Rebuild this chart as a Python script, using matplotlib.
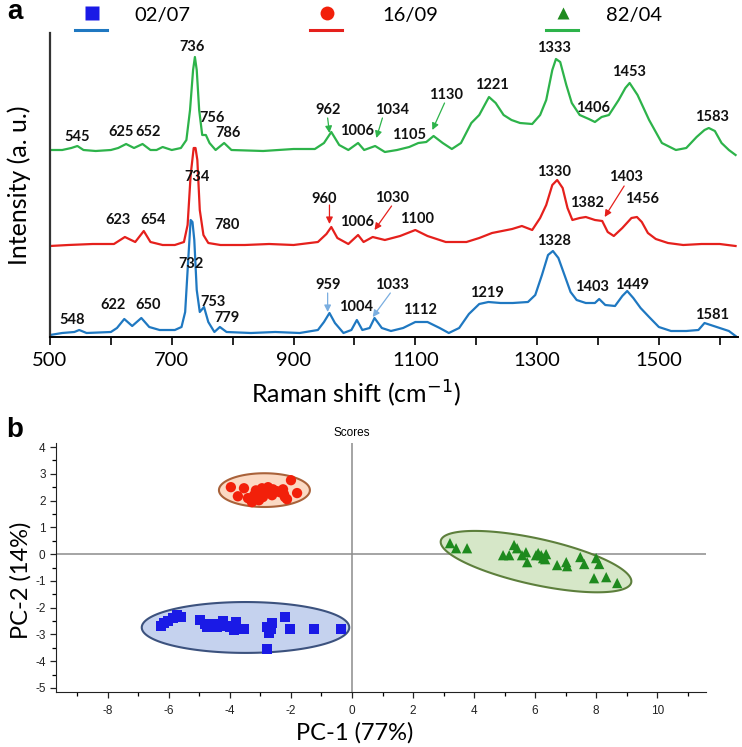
import numpy as np
import matplotlib
matplotlib.use("Agg")
import matplotlib.pyplot as plt
from matplotlib.ticker import MultipleLocator

plt.rcParams['axes.unicode_minus'] = False
plt.rcParams['font.family'] = ['Lato', 'DejaVu Sans']

# ---------------- data: Raman spectra ----------------
wn_green = [500, 520, 535, 545, 555, 575, 600, 612, 625, 638, 652, 665, 675, 685, 700, 715, 724, 730, 735, 738,
            741, 745, 750, 756, 762, 772, 786, 798, 850, 900, 935, 950, 962, 975, 990, 1006, 1016, 1034, 1050,
            1070, 1090, 1105, 1118, 1130, 1145, 1160, 1175, 1192, 1205, 1221, 1232, 1245, 1258, 1272, 1292,
            1305, 1315, 1325, 1331, 1338, 1348, 1357, 1370, 1385, 1395, 1406, 1418, 1434, 1445, 1452, 1465,
            1484, 1505, 1528, 1545, 1562, 1575, 1582, 1592, 1603, 1615, 1626]
int_green = [187, 187, 189, 191, 187, 186, 187, 189, 193, 189, 193, 187, 187, 190, 187, 189, 197, 227, 267, 280,
             267, 227, 202, 202, 194, 187, 194, 187, 186, 188, 188, 194, 205, 192, 187, 194, 187, 191, 185,
             187, 190, 194, 195, 201, 194, 188, 194, 214, 222, 240, 234, 222, 217, 214, 213,
             222, 237, 267, 278, 275, 252, 234, 222, 218, 215, 220, 222, 237, 249, 254, 242,
             217, 194, 187, 189, 200, 207, 209, 206, 194, 187, 182]

wn_red = [500, 530, 570, 605, 623, 640, 654, 665, 685, 705, 720, 726, 731, 736, 739, 742, 746, 752, 760, 780,
          820, 860, 900, 940, 954, 962, 972, 990, 1006, 1015, 1030, 1050, 1075, 1100, 1120, 1150, 1184, 1205,
          1226, 1259, 1275, 1292, 1305, 1315, 1325, 1333, 1342, 1350, 1358, 1370, 1380, 1395, 1407, 1416,
          1426, 1440, 1455, 1464, 1472, 1482, 1495, 1515, 1540, 1570, 1600, 1626]
int_red = [91, 92, 93, 93, 100, 95, 106, 95, 92, 92, 95, 112, 162, 189, 189, 177, 127, 102, 94, 92,
           92, 93, 92, 95, 103, 110, 99, 93, 102, 95, 100, 97, 101, 107, 101, 95, 95, 99,
           104, 108, 111, 107, 119, 132, 152, 157, 149, 129, 117, 119, 120, 117, 116, 105,
           101, 109, 119, 120, 115, 104, 98, 94, 92, 93, 93, 91]

wn_blue = [500, 520, 540, 548, 560, 600, 610, 622, 635, 650, 663, 680, 705, 716, 722, 727, 731, 734, 737, 741,
           746, 753, 760, 770, 779, 790, 830, 870, 910, 940, 950, 959, 968, 982, 995, 1004, 1013, 1025, 1033,
           1045, 1060, 1080, 1100, 1120, 1140, 1155, 1172, 1188, 1205, 1220, 1240, 1260, 1285, 1297, 1308,
           1318, 1326, 1335, 1345, 1355, 1365, 1380, 1395, 1402, 1412, 1428, 1440, 1448, 1458, 1470, 1484,
           1500, 1520, 1545, 1565, 1575, 1585, 1600, 1615, 1626]
int_blue = [2, 4, 5, 7, 4, 5, 9, 18, 11, 19, 10, 7, 7, 10, 25, 77, 117, 115, 97, 47,
            25, 30, 15, 5, 10, 5, 4, 5, 4, 7, 15, 24, 14, 4, 7, 17, 7, 9, 19,
            9, 6, 9, 15, 15, 9, 4, 9, 23, 33, 35, 34, 34, 35, 42, 62,
            82, 86, 79, 62, 45, 37, 34, 34, 38, 32, 31, 41, 46, 39, 29, 20,
            10, 6, 6, 7, 14, 12, 9, 6, 1]

# peak labels: (text, x, y)
peaks_green = [("545", 544, 200), ("625", 616, 205), ("652", 661, 205), ("736", 734, 290), ("756", 766, 219),
               ("786", 793, 204), ("962", 956, 227), ("1006", 1004, 206), ("1034", 1062, 227),
               ("1105", 1090, 202), ("1130", 1151, 242), ("1221", 1225, 252), ("1333", 1328, 289),
               ("1406", 1392, 229), ("1453", 1451, 265), ("1583", 1587, 220)]
peaks_red = [("623", 611, 117), ("654", 669, 117), ("734", 741, 160), ("780", 790, 112), ("960", 951, 138),
             ("1006", 1005, 115), ("1030", 1062, 139), ("1100", 1102, 118), ("1330", 1328, 165),
             ("1382", 1382, 134), ("1403", 1446, 160), ("1456", 1472, 138)]
peaks_blue = [("548", 536, 17), ("622", 603, 32), ("650", 661, 32), ("732", 731, 73), ("753", 767, 35),
              ("779", 790, 19), ("959", 956, 52), ("1004", 1003, 30), ("1033", 1061, 52), ("1112", 1107, 27),
              ("1219", 1218, 44), ("1328", 1328, 96), ("1403", 1390, 50), ("1449", 1456, 52), ("1581", 1587, 22)]

# arrows: (start, end)
arrows_green = [((956, 219), (959, 204)), ((1046, 219), (1036, 199)), ((1148, 234), (1128, 207))]
arrows_red = [((959, 132), (959, 113)), ((1061, 131), (1033, 107)), ((1443, 151), (1411, 120))]
arrows_blue = [((956, 44), (956, 25)), ((1059, 44), (1030, 20))]

# ---------------- data: PCA scores ----------------
pc1_red = [-3.97, -3.74, -3.54, -3.28, -3.21, -3.08, -3.05, -2.95, -2.85, -2.75, -2.69, -2.59, -2.46, -2.36,
           -2.23, -2.13, -2.00, -1.80, -3.41, -2.62, -2.92, -2.26, -2.20, -3.15, -2.78]
pc2_red = [2.50, 2.16, 2.46, 1.94, 2.20, 2.31, 2.01, 2.46, 2.28, 2.50, 2.31, 2.42, 2.35, 2.31,
           2.24, 2.05, 2.76, 2.28, 2.09, 2.20, 2.13, 2.42, 2.13, 2.38, 2.45]

pc1_green = [3.21, 3.41, 3.77, 4.95, 5.15, 5.31, 5.41, 5.57, 5.70, 5.74, 6.03, 6.10, 6.20, 6.26, 6.36, 6.33,
             6.72, 7.02, 7.05, 7.48, 7.61, 8.00, 8.10, 7.93, 8.33, 8.69]
pc2_green = [0.41, 0.22, 0.22, -0.04, -0.04, 0.34, 0.22, -0.04, 0.07, -0.30, -0.04, 0.04, -0.04, -0.15, 0.00,
             -0.19, -0.41, -0.30, -0.45, -0.11, -0.37, -0.15, -0.37, -0.90, -0.86, -1.08]

pc1_blue = [-6.26, -6.16, -6.03, -5.87, -5.74, -5.61, -4.98, -4.82, -4.75, -4.56, -4.43, -4.23, -4.13, -4.00,
            -3.87, -3.80, -3.54, -2.79, -2.62, -2.72, -2.66, -2.20, -2.03, -1.25, -0.36, -2.79]
pc2_blue = [-2.69, -2.57, -2.50, -2.39, -2.28, -2.35, -2.46, -2.61, -2.72, -2.61, -2.72, -2.50, -2.69, -2.72,
            -2.84, -2.54, -2.80, -2.72, -2.57, -2.95, -2.80, -2.35, -2.80, -2.80, -2.80, -3.54]

# confidence ellipses: centre, semi-diameter vectors
ell_red = ((-2.87, 2.39), (1.49, 0.0), (0.0, 0.63))
ell_blue = ((-3.49, -2.74), (3.40, 0.0), (0.0, 0.95))
ell_green = ((6.03, -0.28), (3.12, -0.78), (0.16, 0.84))

groups = ["02/07", "16/09", "82/04"]

c_blue_line, c_red_line, c_green_line = "#1f78c1", "#e5201c", "#2db34a"
c_blue_mk, c_red_mk, c_green_mk = "#1a1ae6", "#f2200a", "#1e8a1e"

fig = plt.figure(figsize=(7.42, 7.47), dpi=100)

# ================= panel a =================
ax = fig.add_axes([50 / 742, 1 - 337 / 747, 688 / 742, 304 / 747])
ax.plot(wn_green, int_green, color=c_green_line, lw=1.6)
ax.plot(wn_red, int_red, color=c_red_line, lw=1.6)
ax.plot(wn_blue, int_blue, color=c_blue_line, lw=1.6)

for lst in (peaks_green, peaks_red, peaks_blue):
    for s, x, y in lst:
        ax.text(x, y, s, ha='center', va='center', fontsize=10.5, fontweight='bold', color='#111111')

arrow_col = {"g": "#2db34a", "r": "#e5201c", "b": "#7aaee0"}
for key, lst in (("g", arrows_green), ("r", arrows_red), ("b", arrows_blue)):
    for start, end in lst:
        ax.annotate('', xy=end, xytext=start,
                    arrowprops=dict(arrowstyle='-|>', color=arrow_col[key], lw=0.9,
                                    shrinkA=0, shrinkB=0, mutation_scale=10))

ax.set_xlim(500, 1630)
ax.set_ylim(0, 304)
ax.set_yticks([])
ax.set_xticks(np.arange(500, 1601, 100))
ax.set_xticklabels([str(v) if v % 200 == 100 else '' for v in range(500, 1601, 100)])
ax.tick_params(axis='x', direction='out', length=6, width=1.2, labelsize=14.5, pad=5)
for sp in ('top', 'right'):
    ax.spines[sp].set_visible(False)
ax.spines['left'].set_linewidth(1.6)
ax.spines['left'].set_color('#333333')
ax.spines['bottom'].set_linewidth(1.4)
ax.set_xlabel("Raman shift (cm$^{-1}$)", fontsize=18)
ax.xaxis.set_label_coords(0.445, -0.135)
ax.set_ylabel("Intensity (a. u.)", fontsize=18)
ax.yaxis.set_label_coords(-0.027, 0.5)

# ================= panel b =================
bx = fig.add_axes([56 / 742, 1 - 692 / 747, 650 / 742, 249 / 747])


def draw_ellipse(axis, ell, face, edge):
    c, a, b = ell
    t = np.linspace(0, 2 * np.pi, 200)
    xs = c[0] + np.cos(t) * a[0] + np.sin(t) * b[0]
    ys = c[1] + np.cos(t) * a[1] + np.sin(t) * b[1]
    axis.fill(xs, ys, facecolor=face, edgecolor=edge, lw=1.5, zorder=2)


bx.axhline(0, color='#8c8c8c', lw=1.1, zorder=1)
bx.axvline(0, color='#8c8c8c', lw=1.1, zorder=1)
draw_ellipse(bx, ell_red, '#fbd9c3', '#a9623a')
draw_ellipse(bx, ell_blue, '#c5d2ee', '#3c527e')
draw_ellipse(bx, ell_green, '#d6e7c8', '#5d7f3c')

bx.scatter(pc1_red, pc2_red, marker='o', s=55, color=c_red_mk, edgecolors='none', zorder=3)
bx.scatter(pc1_blue, pc2_blue, marker='s', s=50, color=c_blue_mk, edgecolors='none', zorder=3)
bx.scatter(pc1_green, pc2_green, marker='^', s=55, color=c_green_mk, edgecolors='none', zorder=3)

bx.set_xlim(-9.7, 11.6)
bx.set_ylim(-5.15, 4.15)
bx.set_xticks(np.arange(-8, 11, 2))
bx.xaxis.set_minor_locator(MultipleLocator(1))
bx.set_yticks(np.arange(-5, 5, 1))
bx.yaxis.set_minor_locator(MultipleLocator(0.5))
for lab in bx.get_xticklabels() + bx.get_yticklabels():
    lab.set_family('Liberation Sans')
bx.tick_params(which='major', length=4, width=0.9, labelsize=8.5, colors='#222222')
bx.tick_params(which='minor', length=3, width=0.9)
bx.tick_params(axis='x', which='both', pad=5)
for sp in ('top', 'right'):
    bx.spines[sp].set_visible(False)
bx.spines['left'].set_color('#222222')
bx.spines['bottom'].set_color('#222222')
bx.set_xlabel("PC-1 (77%)", fontsize=17)
bx.xaxis.set_label_coords(0.46, -0.12)
bx.set_ylabel("PC-2 (14%)", fontsize=17)
bx.yaxis.set_label_coords(-0.038, 0.45)
bx.annotate("Scores", xy=(0, 1), xycoords=('data', 'axes fraction'), xytext=(0, 3),
            textcoords='offset points', ha='center', va='bottom', fontsize=8.5, family='Liberation Sans')

# ================= overlay: legend and panel letters =================
ov = fig.add_axes([0, 0, 1, 1])
ov.set_xlim(0, 742)
ov.set_ylim(747, 0)
ov.axis('off')
leg_mk_x = [92, 327, 563]
leg_txt_x = [134, 382, 606]
leg_mk = ['s', 'o', '^']
leg_mk_col = [c_blue_mk, c_red_mk, c_green_mk]
leg_line_col = [c_blue_line, c_red_line, c_green_line]
for i, name in enumerate(groups):
    ov.plot([leg_mk_x[i] - 17, leg_mk_x[i] + 15], [30, 30], color=leg_line_col[i], lw=2.2)
    ov.plot([leg_mk_x[i]], [13], marker=leg_mk[i], ms=10 if i < 2 else 9, color=leg_mk_col[i], mec='none')
    ov.text(leg_txt_x[i], 15, name, fontsize=14.5, ha='left', va='center')
ov.text(7, 12, "a", fontsize=20, fontweight='bold', family='Liberation Sans', ha='left', va='center')
ov.text(6, 430, "b", fontsize=20, fontweight='bold', family='Liberation Sans', ha='left', va='center')

fig.savefig("out.png", dpi=100)
